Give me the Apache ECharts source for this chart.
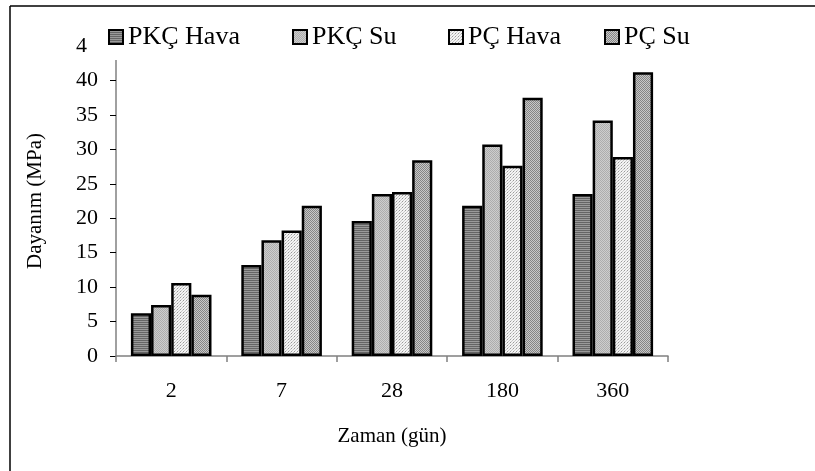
<!DOCTYPE html>
<html>
<head>
<meta charset="utf-8">
<script src="https://cdn.jsdelivr.net/npm/echarts@6/dist/echarts.min.js"></script>
<style>html,body{margin:0;padding:0;background:#fff}#c{width:815px;height:471px}</style>
</head>
<body>
<div id="c"></div>
<script>
const categories = ['2', '7', '28', '180', '360'];
const seriesNames = ['PKÇ Hava', 'PKÇ Su', 'PÇ Hava', 'PÇ Su'];
const pkcHava = [6.2, 13.2, 19.6, 21.8, 23.5];
const pkcSu = [7.4, 16.8, 23.5, 30.7, 34.2];
const pcHava = [10.6, 18.2, 23.8, 27.6, 28.9];
const pcSu = [8.9, 21.8, 28.4, 37.5, 41.2];
const yMin = 0, yMax = 45, yStep = 5;

function makePattern(w, h, draw) {
  const c = document.createElement('canvas');
  c.width = w; c.height = h;
  const ctx = c.getContext('2d');
  draw(ctx);
  return { image: c, repeat: 'repeat' };
}
const patterns = [
  makePattern(2, 2, ctx => { ctx.fillStyle = '#9a9a9a'; ctx.fillRect(0,0,2,2); ctx.fillStyle = '#656565'; ctx.fillRect(0,0,2,1); }),
  makePattern(2, 2, ctx => { ctx.fillStyle = '#cdcdcd'; ctx.fillRect(0,0,2,2); ctx.fillStyle = '#adadad'; ctx.fillRect(0,0,1,1); ctx.fillRect(1,1,1,1); }),
  makePattern(3, 3, ctx => { ctx.fillStyle = '#f4f4f4'; ctx.fillRect(0,0,3,3); ctx.fillStyle = '#9a9a9a'; ctx.fillRect(0,0,1,1); ctx.fillStyle='#c8c8c8'; ctx.fillRect(1,2,1,1); ctx.fillRect(2,1,1,1); }),
  makePattern(2, 2, ctx => { ctx.fillStyle = '#c8c8c8'; ctx.fillRect(0,0,2,2); ctx.fillStyle = '#858585'; ctx.fillRect(0,0,1,1); ctx.fillRect(1,1,1,1); })
];
const dataSets = [pkcHava, pkcSu, pcHava, pcSu];
const serif = '"Liberation Serif", "Times New Roman", serif';
const legendLefts = [108, 292, 448, 604];

const chart = echarts.init(document.getElementById('c'));
chart.setOption({
  backgroundColor: '#ffffff',
  animation: false,
  textStyle: { fontFamily: serif, color: '#000' },
  grid: { left: 116, right: 147, top: 46, bottom: 115, containLabel: false },
  legend: seriesNames.map((n, i) => ({
    data: [n], left: legendLefts[i], top: 24, padding: 0, z: 6,
    itemWidth: 14, itemHeight: 14, itemGap: 0, icon: 'rect',
    textStyle: { fontFamily: serif, fontSize: 26, color: '#000' }
  })),
  graphic: [
    { type: 'rect', z: 3, shape: { x: 87, y: 14, width: 630, height: 46 }, style: { fill: '#ffffff' } },
    { type: 'line', z: 3, shape: { x1: 10, y1: 6, x2: 815, y2: 6 }, style: { stroke: '#000', lineWidth: 1.5 } },
    { type: 'line', z: 3, shape: { x1: 10, y1: 6, x2: 10, y2: 471 }, style: { stroke: '#000', lineWidth: 1.5 } }
  ],
  xAxis: {
    type: 'category', data: categories,
    name: 'Zaman (gün)', nameLocation: 'middle', nameGap: 70,
    nameTextStyle: { fontFamily: serif, fontSize: 21, color: '#000' },
    axisLine: { lineStyle: { color: '#808080', width: 1.5 } },
    axisTick: { show: true, length: 6, lineStyle: { color: '#808080', width: 1.5 } },
    axisLabel: { fontFamily: serif, fontSize: 22, color: '#000', margin: 24 }
  },
  yAxis: {
    type: 'value', min: yMin, max: yMax, interval: yStep,
    name: 'Dayanım (MPa)', nameLocation: 'middle', nameGap: 70, nameRotate: 90,
    nameTextStyle: { fontFamily: serif, fontSize: 21, color: '#000' },
    axisLine: { show: true, lineStyle: { color: '#808080', width: 1.5 } },
    axisTick: { show: true, length: 6, lineStyle: { color: '#000', width: 1 } },
    axisLabel: { fontFamily: serif, fontSize: 22, color: '#000', margin: 18 },
    splitLine: { show: false }
  },
  series: seriesNames.map((n, i) => ({
    name: n, type: 'bar', data: dataSets[i],
    barGap: '0%', barCategoryGap: '27%',
    itemStyle: { color: patterns[i], borderColor: '#000', borderWidth: 2.5 }
  }))
});
</script>
</body>
</html>
